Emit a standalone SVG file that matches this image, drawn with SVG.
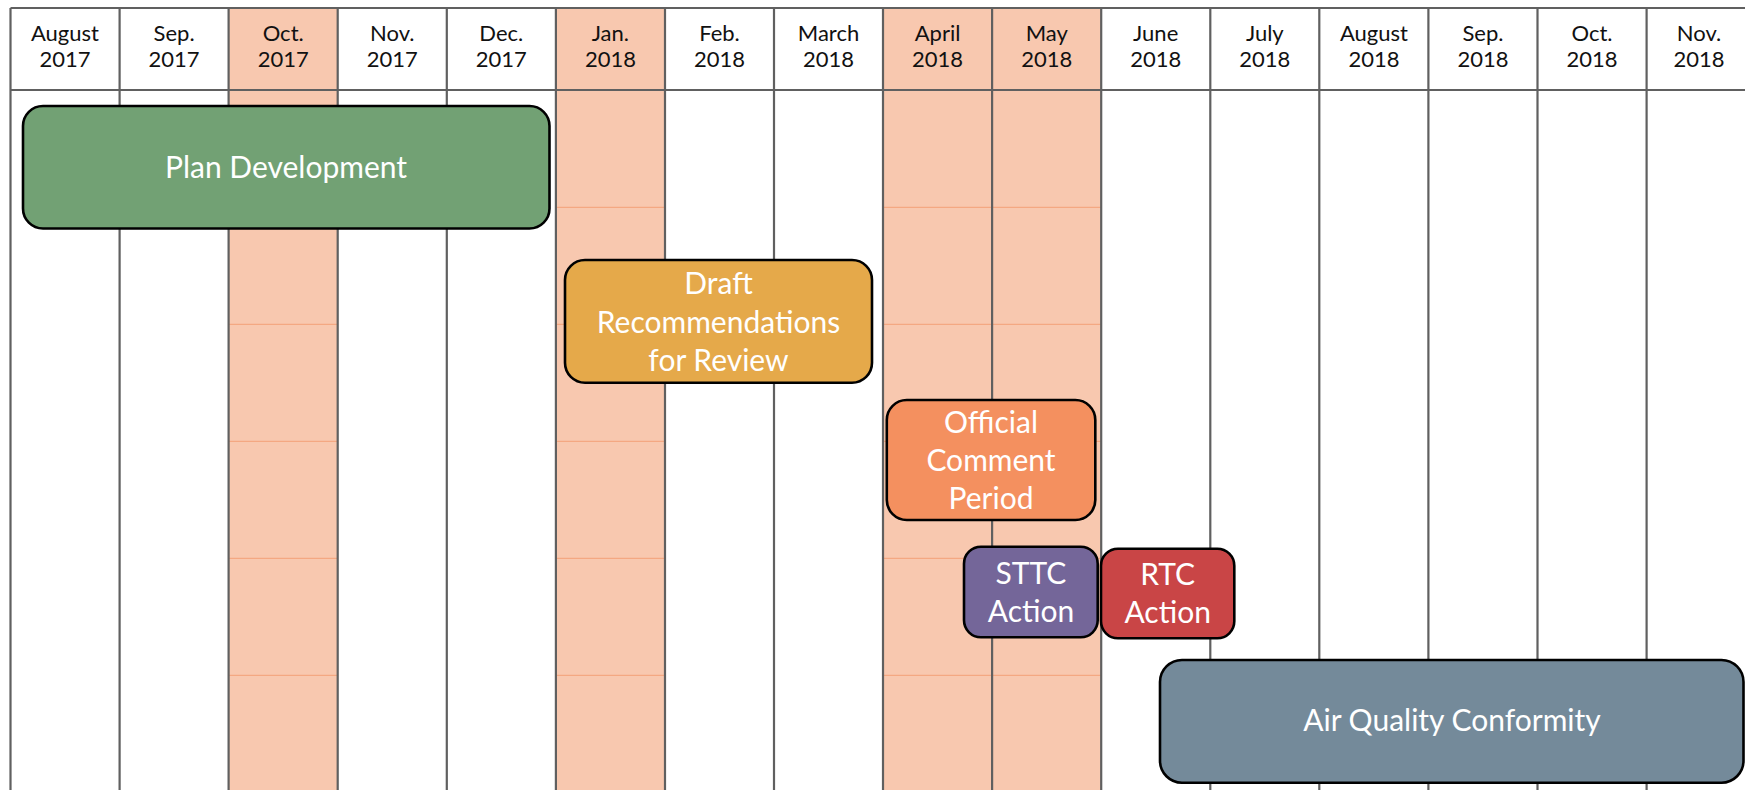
<svg xmlns="http://www.w3.org/2000/svg" width="1745" height="790" viewBox="0 0 1745 790">
<style>
.bg{fill:#ffffff}
.shade{fill:#F8C8AF}
.rowline{stroke:#F4A882;stroke-width:1.2}
.grid{stroke:#606060;stroke-width:2.2;fill:none}
.hdr{font-family:Lato,"Liberation Sans",sans-serif;font-size:22px;fill:#111111;text-anchor:middle}
.box{stroke:#000000;stroke-width:2.6}
.lbl{font-family:Lato,"Liberation Sans",sans-serif;font-size:30px;fill:#ffffff;text-anchor:middle}
</style>
<rect class="bg" x="0" y="0" width="1745" height="790"/>
<g id="grid">
  <g id="shading">
    <rect class="shade" x="228.6" y="8" width="109.1" height="782"/>
    <rect class="shade" x="555.9" y="8" width="109.1" height="782"/>
    <rect class="shade" x="883" y="8" width="218.2" height="782"/>
  </g>
  <g id="row-lines">
    <path class="rowline" d="M228.6 207.3H337.7M228.6 324.3H337.7M228.6 441.3H337.7M228.6 558.3H337.7M228.6 675.3H337.7"/>
    <path class="rowline" d="M555.9 207.3H665M555.9 324.3H665M555.9 441.3H665M555.9 558.3H665M555.9 675.3H665"/>
    <path class="rowline" d="M883 207.3H1101.2M883 324.3H1101.2M883 441.3H1101.2M883 558.3H1101.2M883 675.3H1101.2"/>
  </g>
  <path class="grid" d="M10.5 8H1745M10.5 90H1745
    M10.5 8V790M119.6 8V790M228.6 8V790M337.7 8V790M446.8 8V790M555.9 8V790M665 8V790M774 8V790
    M883 8V790M992.1 8V790M1101.2 8V790M1210.3 8V790M1319.3 8V790M1428.4 8V790M1537.5 8V790M1646.6 8V790"/>
  <g id="header">
    <text class="hdr" x="65" y="41">August</text><text class="hdr" x="65" y="67">2017</text>
    <text class="hdr" x="174.1" y="41">Sep.</text><text class="hdr" x="174.1" y="67">2017</text>
    <text class="hdr" x="283.2" y="41">Oct.</text><text class="hdr" x="283.2" y="67">2017</text>
    <text class="hdr" x="392.3" y="41">Nov.</text><text class="hdr" x="392.3" y="67">2017</text>
    <text class="hdr" x="501.3" y="41">Dec.</text><text class="hdr" x="501.3" y="67">2017</text>
    <text class="hdr" x="610.4" y="41">Jan.</text><text class="hdr" x="610.4" y="67">2018</text>
    <text class="hdr" x="719.5" y="41">Feb.</text><text class="hdr" x="719.5" y="67">2018</text>
    <text class="hdr" x="828.5" y="41">March</text><text class="hdr" x="828.5" y="67">2018</text>
    <text class="hdr" x="937.6" y="41">April</text><text class="hdr" x="937.6" y="67">2018</text>
    <text class="hdr" x="1046.7" y="41">May</text><text class="hdr" x="1046.7" y="67">2018</text>
    <text class="hdr" x="1155.7" y="41">June</text><text class="hdr" x="1155.7" y="67">2018</text>
    <text class="hdr" x="1264.8" y="41">July</text><text class="hdr" x="1264.8" y="67">2018</text>
    <text class="hdr" x="1373.9" y="41">August</text><text class="hdr" x="1373.9" y="67">2018</text>
    <text class="hdr" x="1483" y="41">Sep.</text><text class="hdr" x="1483" y="67">2018</text>
    <text class="hdr" x="1592" y="41">Oct.</text><text class="hdr" x="1592" y="67">2018</text>
    <text class="hdr" x="1699" y="41">Nov.</text><text class="hdr" x="1699" y="67">2018</text>
  </g>
</g>
<g id="plan-development">
  <rect class="box" x="23" y="106" width="526.5" height="122.5" rx="20" fill="#72A174"/>
  <text class="lbl" x="286" y="178">Plan Development</text>
</g>
<g id="draft-recommendations">
  <rect class="box" x="565" y="260" width="307" height="122.7" rx="20" fill="#E5A94A"/>
  <text class="lbl" x="718.5" y="294">Draft</text>
  <text class="lbl" x="718.5" y="332.5">Recommendations</text>
  <text class="lbl" x="718.5" y="370.5">for Review</text>
</g>
<g id="official-comment-period">
  <rect class="box" x="886.8" y="400" width="208.5" height="120" rx="20" fill="#F4905F"/>
  <text class="lbl" x="991" y="433.3">Official</text>
  <text class="lbl" x="991" y="471.3">Comment</text>
  <text class="lbl" x="991" y="509.3">Period</text>
</g>
<g id="sttc-action">
  <rect class="box" x="964" y="546.7" width="133.7" height="90.6" rx="17" fill="#746699"/>
  <text class="lbl" x="1031" y="584">STTC</text>
  <text class="lbl" x="1031" y="622">Action</text>
</g>
<g id="rtc-action">
  <rect class="box" x="1101" y="548.7" width="133.3" height="89.6" rx="17" fill="#C94546"/>
  <text class="lbl" x="1167.7" y="585">RTC</text>
  <text class="lbl" x="1167.7" y="623">Action</text>
</g>
<g id="air-quality-conformity">
  <rect class="box" x="1160" y="660" width="583.5" height="122.7" rx="22" fill="#748A9A"/>
  <text class="lbl" x="1452" y="730.7">Air Quality Conformity</text>
</g>
</svg>
